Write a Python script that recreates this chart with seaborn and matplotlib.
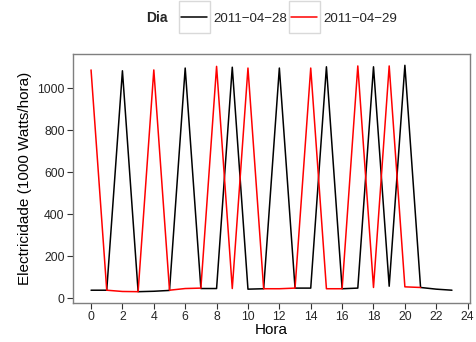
import matplotlib
matplotlib.use("Agg")
import matplotlib.pyplot as plt
import seaborn as sns
import pandas as pd
from matplotlib.patches import Rectangle

hours_a = list(range(24))
vals_a = [39, 39, 1083, 32, 34, 38, 1096, 47, 47, 1100, 44, 46,
          1096, 49, 49, 1102, 46, 49, 1102, 58, 1109, 52, 44, 39]
hours_b = list(range(22))
vals_b = [1087, 39, 33, 32, 1087, 39, 47, 49, 1104, 47, 1096, 46,
          46, 49, 1096, 46, 46, 1106, 52, 1106, 55, 52]
days = ["2011\u221204\u221228", "2011\u221204\u221229"]
x_ticks = list(range(0, 25, 2))
y_ticks = list(range(0, 1001, 200))

df = pd.DataFrame({
    "Hora": hours_a + hours_b,
    "Valor": vals_a + vals_b,
    "Dia": [days[0]] * len(hours_a) + [days[1]] * len(hours_b),
})

sns.set_style("white")
plt.rcParams["font.family"] = ["Liberation Sans", "DejaVu Sans"]

fig = plt.figure(figsize=(4.77, 3.42), dpi=100)
ax = fig.add_axes([73 / 477, 1 - 303 / 342, (470 - 73) / 477, (303 - 54) / 342])

sns.lineplot(data=df, x="Hora", y="Valor", hue="Dia", hue_order=days,
             palette=["black", "red"], linewidth=1.1, ax=ax, legend=True)

xr = 23 * 0.05
ax.set_xlim(-xr, 23 + xr)
yr = (1109 - 32) * 0.05
ax.set_ylim(32 - yr, 1109 + yr)
ax.set_xticks(x_ticks)
ax.set_yticks(y_ticks)
ax.tick_params(axis="both", direction="out", length=4, width=0.8,
               color="#333333", labelcolor="#262626", labelsize=8.8, pad=2,
               bottom=True, left=True)
ax.set_xlabel("Hora", fontsize=11, labelpad=0, color="black")
ax.set_ylabel("Electricidade (1000 Watts/hora)", fontsize=11, labelpad=4, color="black")
for s in ax.spines.values():
    s.set_color("#7F7F7F")
    s.set_linewidth(1.0)
ax.grid(False)

handles, labels = ax.get_legend_handles_labels()
ax.get_legend().remove()
leg = fig.legend(handles, labels, loc="center", bbox_to_anchor=(289 / 477, 1 - 18.5 / 342),
                 ncol=2, frameon=False, fontsize=9.6, handlelength=1.95,
                 handletextpad=0.45, columnspacing=0.3, borderaxespad=0,
                 borderpad=0)
fig.text(156.5 / 477, 1 - 18.5 / 342, "Dia", fontsize=10, fontweight="bold",
         ha="center", va="center")

fig.canvas.draw()
for h in leg.legend_handles:
    bb = h.get_window_extent()
    cx = (bb.x0 + bb.x1) / 2
    cy = (bb.y0 + bb.y1) / 2
    w = 31
    rect = Rectangle(((cx - w / 2) / 477, (cy - w / 2) / 342), w / 477, w / 342,
                     transform=fig.transFigure, facecolor="white",
                     edgecolor="#D9D9D9", linewidth=1.0, zorder=0)
    fig.patches.append(rect)

fig.savefig("out.png", dpi=100)
